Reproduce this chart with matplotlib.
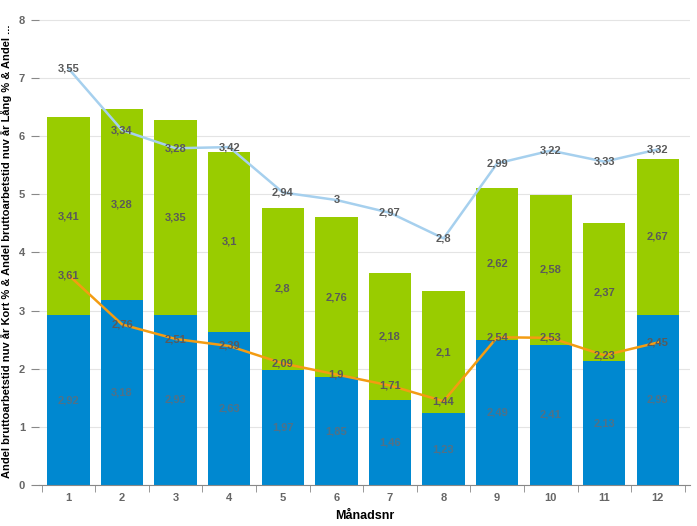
import numpy as np
import matplotlib.pyplot as plt

plt.rcParams['font.family'] = ['Liberation Sans', 'DejaVu Sans']

# Andel bruttoarbetstid per månad: staplar (Blå + Grön) och linjer (Kort, Lång)
months = np.arange(1, 13)
blue_vals = [2.92, 3.18, 2.93, 2.63, 1.97, 1.85, 1.46, 1.23, 2.49, 2.41, 2.13, 2.93]
green_vals = [3.41, 3.28, 3.35, 3.1, 2.8, 2.76, 2.18, 2.1, 2.62, 2.58, 2.37, 2.67]
kort_vals = [3.61, 2.76, 2.51, 2.39, 2.09, 1.9, 1.71, 1.44, 2.54, 2.53, 2.23, 2.45]
lang_vals = [3.55, 3.34, 3.28, 3.42, 2.94, 3, 2.97, 2.8, 2.99, 3.22, 3.33, 3.32]

def fmt(v):
    s = ('%.2f' % v).rstrip('0').rstrip('.')
    return s.replace('.', ',')

blue = np.array(blue_vals)
green = np.array(green_vals)
kort = np.array(kort_vals)
lang = np.array(lang_vals)

fig = plt.figure(figsize=(6.97, 5.26), dpi=100)
ax = fig.add_axes([0.056, 0.078, 0.934, 0.89])

label_col = '#5a5a5a'
ax.bar(months, blue, width=0.79, color='#0088d0', zorder=2)
ax.bar(months, green, width=0.79, bottom=blue, color='#99cc00', zorder=2)

for m, b, g in zip(months, blue, green):
    ax.text(m, b / 2, fmt(b), ha='center', va='center', fontsize=8,
            fontweight='bold', color='#6a6a70', alpha=0.75, zorder=3)
    ax.text(m, b + g / 2, fmt(g), ha='center', va='center', fontsize=8,
            fontweight='bold', color=label_col, zorder=3)

# linjerna är staplade: Lång ovanpå Kort
ax.plot(months, kort, color='#f39c12', lw=1.8, zorder=4)
ax.plot(months, kort + lang, color='#a6d0ee', lw=1.8, zorder=4)
for m, k, l in zip(months, kort, lang):
    ax.text(m, k, fmt(k), ha='center', va='center', fontsize=8,
            fontweight='bold', color=label_col, zorder=5)
    ax.text(m, k + l, fmt(l), ha='center', va='center', fontsize=8,
            fontweight='bold', color=label_col, zorder=5)

ax.set_xlim(0.45, 12.6)
ax.set_ylim(0, 8.05)
ax.set_yticks(range(0, 9))
ax.set_xticks(months)
ax.set_xticks(np.arange(0.5, 13, 1), minor=True)
ax.tick_params(axis='x', which='major', length=0, labelsize=8,
               labelcolor='#666666', pad=6)
ax.tick_params(axis='x', which='minor', length=5, color='#888888')
ax.tick_params(axis='y', length=6, color='#888888', labelsize=8,
               labelcolor='#666666', pad=4)
for lab in ax.get_xticklabels() + ax.get_yticklabels():
    lab.set_fontweight('bold')

ax.grid(axis='y', color='#e4e4e4', lw=0.8, zorder=0)
for s in ['top', 'right', 'left']:
    ax.spines[s].set_visible(False)
ax.spines['bottom'].set_color('#888888')

ax.set_xlabel('Månadsnr', fontsize=9, fontweight='bold', labelpad=5)
ax.set_ylabel('Andel bruttoarbetstid nuv år Kort % & Andel bruttoarbetstid nuv år Lång % & Andel ...',
              family=['Liberation Sans Narrow', 'Liberation Sans', 'DejaVu Sans'],
              fontsize=8, fontweight='bold', labelpad=5)

fig.savefig('out.png', dpi=100)
